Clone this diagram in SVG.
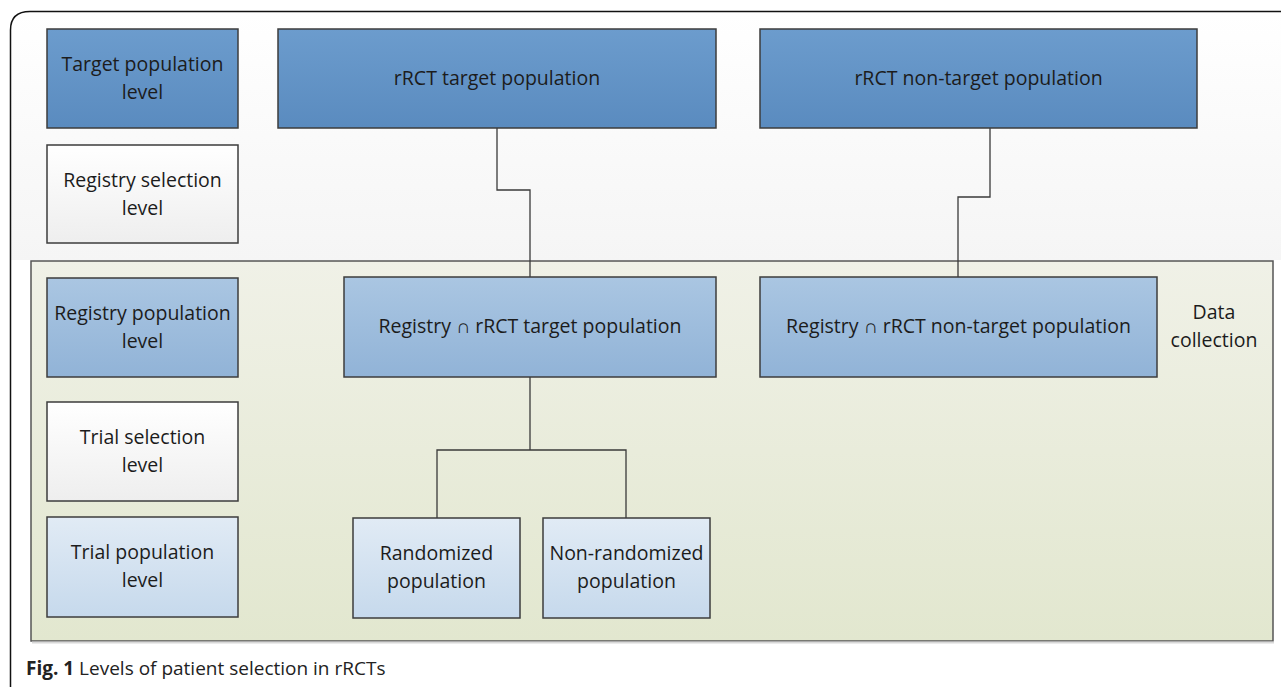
<svg xmlns="http://www.w3.org/2000/svg" width="1281" height="687" viewBox="0 0 1281 687">
<defs>
<linearGradient id="gDark" x1="0" y1="0" x2="0" y2="1"><stop offset="0" stop-color="#6c9ccd"/><stop offset="1" stop-color="#5a8bbf"/></linearGradient>
<linearGradient id="gMid" x1="0" y1="0" x2="0" y2="1"><stop offset="0" stop-color="#aac6e2"/><stop offset="1" stop-color="#91b3d7"/></linearGradient>
<linearGradient id="gLight" x1="0" y1="0" x2="0" y2="1"><stop offset="0" stop-color="#e1ebf5"/><stop offset="1" stop-color="#c6d9ec"/></linearGradient>
<linearGradient id="gWhite" x1="0" y1="0" x2="0" y2="1"><stop offset="0" stop-color="#ffffff"/><stop offset="1" stop-color="#eeeeee"/></linearGradient>
<linearGradient id="gPanel" x1="0" y1="0" x2="0" y2="1"><stop offset="0" stop-color="#f0f1e7"/><stop offset="1" stop-color="#e2e7cf"/></linearGradient>
<linearGradient id="gBg" x1="0" y1="0" x2="0" y2="1"><stop offset="0" stop-color="#ffffff"/><stop offset="1" stop-color="#f5f5f5"/></linearGradient>
</defs>
<style>
.box{stroke:#3d3d3d;stroke-width:1.5}
.t{font-family:"Open Sans","Noto Sans",sans-serif;font-size:19.5px;fill:#1c1c1c;text-anchor:middle}
.conn{fill:none;stroke:#3a3a3a;stroke-width:1.3}
.cap{font-family:"Open Sans","Noto Sans",sans-serif;font-size:19px;fill:#222}
</style>
<rect x="0" y="0" width="1281" height="687" fill="#ffffff"/>
<rect x="11" y="12" width="1270" height="248" fill="url(#gBg)"/>
<path d="M10.5 687 V30 Q10.5 11.5 30 11.5 H1281" fill="none" stroke="#111" stroke-width="1.5"/>
<g id="panel">
<rect x="31" y="261" width="1242" height="380" fill="url(#gPanel)" stroke="#555" stroke-width="1.5"/>
<line x1="32" y1="642.5" x2="1274" y2="642.5" stroke="#d8d8d8" stroke-width="2"/>
</g>
<g id="connectors">
<path class="conn" d="M497 128 V190 H530 V277"/>
<path class="conn" d="M990 128 V197 H958 V277"/>
<path class="conn" d="M530 377 V450"/>
<path class="conn" d="M437 518 V450 H626 V518"/>
</g>
<g id="n-target-level"><rect class="box" x="47" y="29" width="191" height="99" fill="url(#gDark)"/><text class="t" x="142.5" y="71">Target population</text><text class="t" x="142.5" y="99">level</text></g>
<g id="n-registry-selection"><rect class="box" x="47" y="145" width="191" height="98" fill="url(#gWhite)"/><text class="t" x="142.5" y="187">Registry selection</text><text class="t" x="142.5" y="215">level</text></g>
<g id="n-registry-population"><rect class="box" x="47" y="278" width="191" height="99" fill="url(#gMid)"/><text class="t" x="142.5" y="320">Registry population</text><text class="t" x="142.5" y="348">level</text></g>
<g id="n-trial-selection"><rect class="box" x="47" y="402" width="191" height="99" fill="url(#gWhite)"/><text class="t" x="142.5" y="444">Trial selection</text><text class="t" x="142.5" y="472">level</text></g>
<g id="n-trial-population"><rect class="box" x="47" y="517" width="191" height="100" fill="url(#gLight)"/><text class="t" x="142.5" y="559">Trial population</text><text class="t" x="142.5" y="587">level</text></g>
<g id="n-rrct-target"><rect class="box" x="278" y="29" width="438" height="99" fill="url(#gDark)"/><text class="t" x="497" y="85">rRCT target population</text></g>
<g id="n-rrct-nontarget"><rect class="box" x="760" y="29" width="437" height="99" fill="url(#gDark)"/><text class="t" x="978.5" y="85">rRCT non-target population</text></g>
<g id="n-reg-target"><rect class="box" x="344" y="277" width="372" height="100" fill="url(#gMid)"/><text class="t" x="530" y="333">Registry ∩ rRCT target population</text></g>
<g id="n-reg-nontarget"><rect class="box" x="760" y="277" width="397" height="100" fill="url(#gMid)"/><text class="t" x="958.5" y="333">Registry ∩ rRCT non-target population</text></g>
<g id="n-data-collection"><text class="t" x="1214" y="319">Data</text><text class="t" x="1214" y="347">collection</text></g>
<g id="n-randomized"><rect class="box" x="353" y="518" width="167" height="100" fill="url(#gLight)"/><text class="t" x="436.5" y="560">Randomized</text><text class="t" x="436.5" y="588">population</text></g>
<g id="n-nonrandomized"><rect class="box" x="543" y="518" width="167" height="100" fill="url(#gLight)"/><text class="t" x="626.5" y="560">Non-randomized</text><text class="t" x="626.5" y="588">population</text></g>
<text class="cap" x="26" y="675"><tspan font-weight="bold">Fig. 1</tspan> Levels of patient selection in rRCTs</text>
</svg>
